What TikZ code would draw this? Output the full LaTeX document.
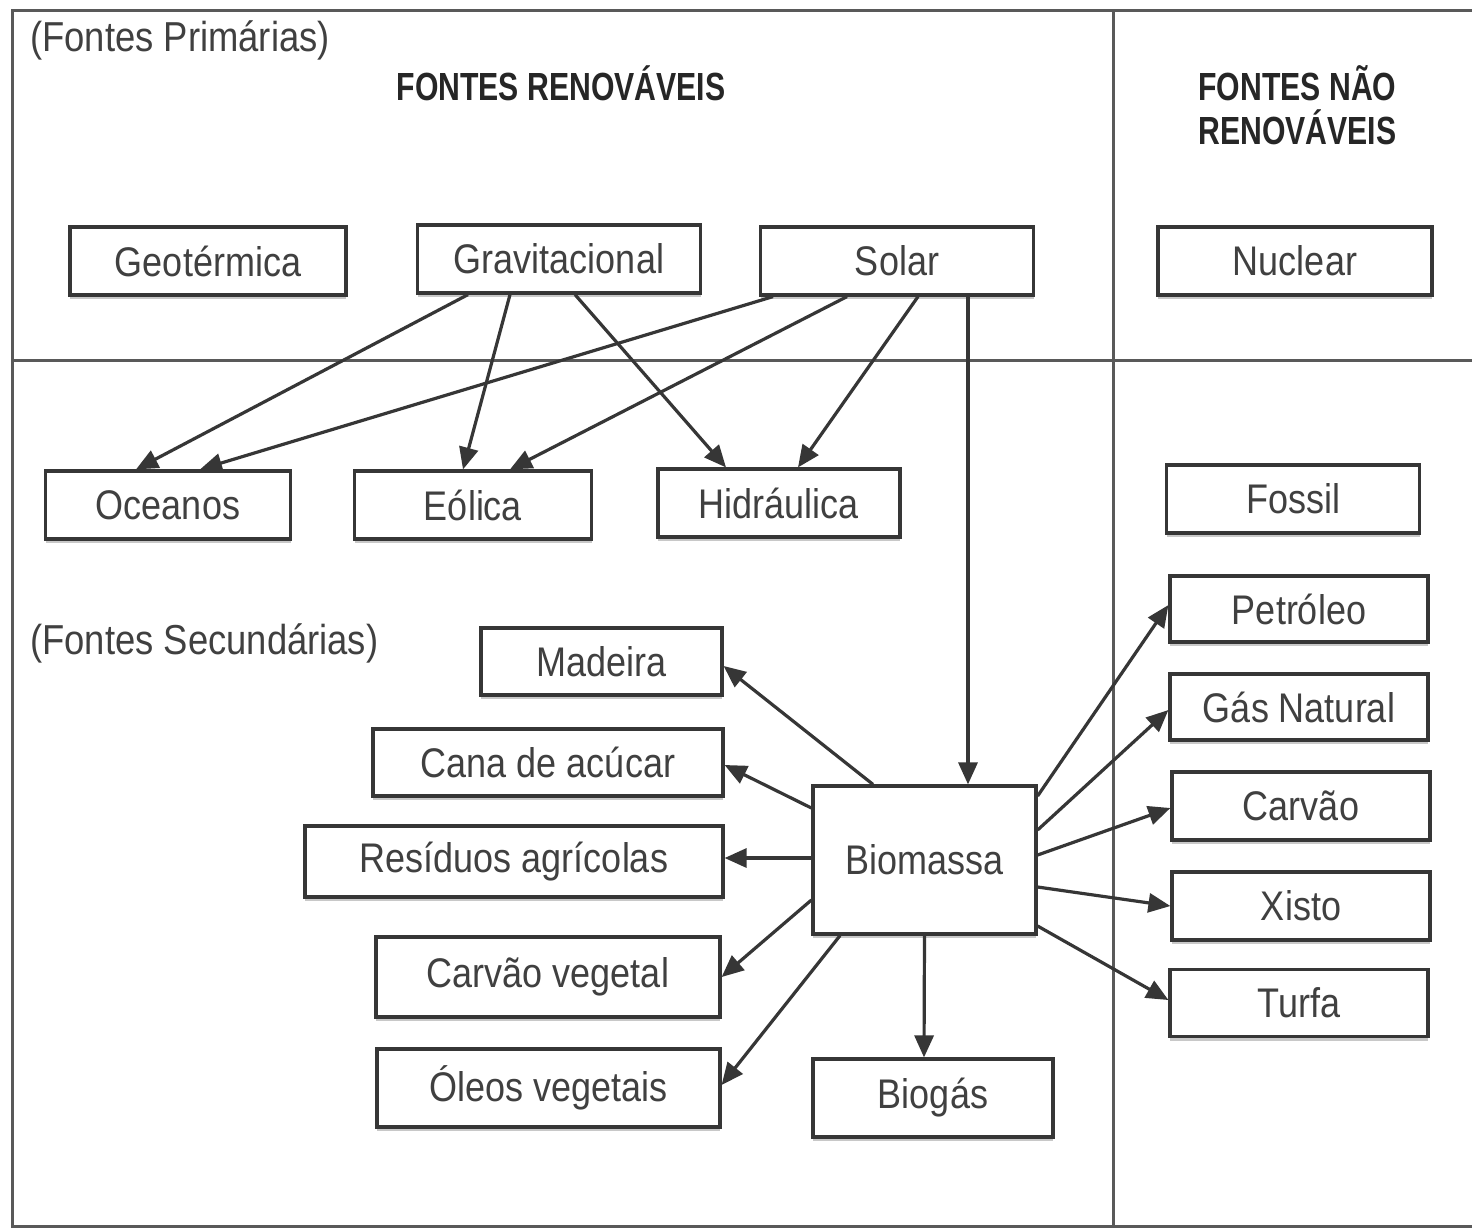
\documentclass[tikz,border=0pt]{standalone}
\usepackage{fontspec}
\setmainfont{Liberation Sans}
\usepackage{graphicx}
\usetikzlibrary{arrows.meta,shadows,calc}
\definecolor{ln}{HTML}{363636}
\definecolor{tx}{HTML}{404040}
\definecolor{hd}{HTML}{262626}
\newcommand\vtxt[1]{\scalebox{1}[1.15]{#1}}
\newcommand\vhead[1]{\scalebox{1}[1.3]{#1}}
\begin{document}
\begin{tikzpicture}[x=0.5pt,y=-0.5pt,
  box/.style={draw=ln, line width=1.6pt, fill=white, inner sep=0pt,
    font=\fontsize{18}{20}\selectfont, text=tx,
    drop shadow={shadow xshift=0pt,shadow yshift=-2.2pt,fill=black!30,opacity=0.7}},
  bx/.style 2 args={box, minimum width=#1*0.5pt, minimum height=#2*0.5pt},
  arr/.style={draw=ln, line width=1.6pt, -{Triangle[length=11pt,width=9.5pt]}},
  frame/.style={draw=black!65, line width=1.5pt},
  lbl/.style={inner sep=0pt, text=tx, font=\fontsize{18.2}{20}\selectfont},
  head/.style={inner sep=0pt, text=hd, font=\bfseries\fontsize{15.1}{22}\selectfont, align=left}]
\useasboundingbox (0,0) rectangle (1472,1228);
\fill[white] (0,0) rectangle (1472,1228);
% frame
\draw[frame] (1472,10) -- (12,10) -- (12,1226) -- (1472,1226);
\draw[frame] (1113,10) -- (1113,1226);
\draw[frame] (12,360) -- (1472,360);
% labels
\node[lbl, anchor=west] (prim) at (30,40) {\vtxt{(Fontes Primárias)}};
\node[lbl, anchor=west] (sec) at (30,643) {\vtxt{(Fontes Secundárias)}};
\node[head] (ren) at (561,83) {\vhead{FONTES RENOVÁVEIS}};
\node[head, anchor=west] (nren1) at (1198,83) {\vhead{FONTES NÃO}};
\node[head, anchor=west] (nren2) at (1198,127) {\vhead{RENOVÁVEIS}};
% primary
\node[bx={276}{68}] (geo) at (208,261) {\vtxt{Geotérmica}};
\node[bx={283}{68}] (grav) at (559,259) {\vtxt{Gravitacional}};
\node[bx={273}{68}] (sol) at (897,261) {\vtxt{Solar}};
\node[bx={274}{68}] (nuc) at (1295,261) {\vtxt{Nuclear}};
% second row
\node[bx={245}{68}] (oce) at (168,505) {\vtxt{Oceanos}};
\node[bx={237}{68}] (eol) at (473,505) {\vtxt{Eólica}};
\node[bx={242}{68}] (hid) at (779,503) {\vtxt{Hidráulica}};
\node[bx={253}{68}] (fos) at (1293,499) {\vtxt{Fossil}};
% right column
\node[bx={258}{66}] (pet) at (1299,609) {\vtxt{Petróleo}};
\node[bx={258}{66}] (gas) at (1299,707) {\vtxt{Gás Natural}};
\node[bx={258}{68}] (car) at (1301,806) {\vtxt{Carvão}};
\node[bx={258}{68}] (xis) at (1301,906) {\vtxt{Xisto}};
\node[bx={258}{67}] (tur) at (1299,1003) {\vtxt{Turfa}};
% left column
\node[bx={241}{67}] (mad) at (601.5,661.5) {\vtxt{Madeira}};
\node[bx={350}{67}] (can) at (548,762.5) {\vtxt{Cana de acúcar}};
\node[bx={418}{71}] (res) at (514,861.5) {\vtxt{Resíduos agrícolas}};
\node[bx={344}{80}] (cve) at (548,977) {\vtxt{Carvão vegetal}};
\node[bx={343}{78}] (ole) at (548.5,1088) {\vtxt{Óleos vegetais}};
% center
\node[bx={223}{148}] (bio) at (924.5,860) {\vtxt{Biomassa}};
\node[bx={240}{78}] (bgs) at (933,1098) {\vtxt{Biogás}};
% arrows primary -> secondary
\draw[arr] ([xshift=-45.5pt]grav.south) -- ([xshift=-16pt]oce.north);
\draw[arr] ([xshift=-62pt]sol.south) -- ([xshift=16pt]oce.north);
\draw[arr] ([xshift=-24.5pt]grav.south) -- ([xshift=-5pt]eol.north);
\draw[arr] ([xshift=-25pt]sol.south) -- ([xshift=18.5pt]eol.north);
\draw[arr] ([xshift=8pt]grav.south) -- ([xshift=-26.5pt]hid.north);
\draw[arr] ([xshift=10.5pt]sol.south) -- ([xshift=9.5pt]hid.north);
\draw[arr] ([xshift=35.5pt]sol.south) -- ([xshift=21.75pt]bio.north);
% biomassa -> left
\draw[arr] ([xshift=-25.75pt]bio.north) -- ([yshift=-2.25pt]mad.east);
\draw[arr] ([yshift=26pt]bio.west) -- ([yshift=-1.25pt]can.east);
\draw[arr] ([yshift=1pt]bio.west) -- ([yshift=1.75pt]res.east);
\draw[arr] ([yshift=-20pt]bio.west) -- (cve.east);
\draw[arr] ([xshift=-42.25pt]bio.south) -- ([yshift=1.5pt]ole.east);
\draw[arr] (bio.south) -- ([xshift=-4.5pt]bgs.north);
% biomassa -> right
\draw[arr] ([yshift=32pt]bio.east) -- ([yshift=2pt]pet.west);
\draw[arr] ([yshift=15pt]bio.east) -- ([yshift=-1.5pt]gas.west);
\draw[arr] ([yshift=2.5pt]bio.east) -- ([yshift=-1pt]car.west);
\draw[arr] ([yshift=-13.5pt]bio.east) -- (xis.west);
\draw[arr] ([yshift=-33pt]bio.east) -- ([yshift=1.5pt]tur.west);
\end{tikzpicture}
\end{document}
